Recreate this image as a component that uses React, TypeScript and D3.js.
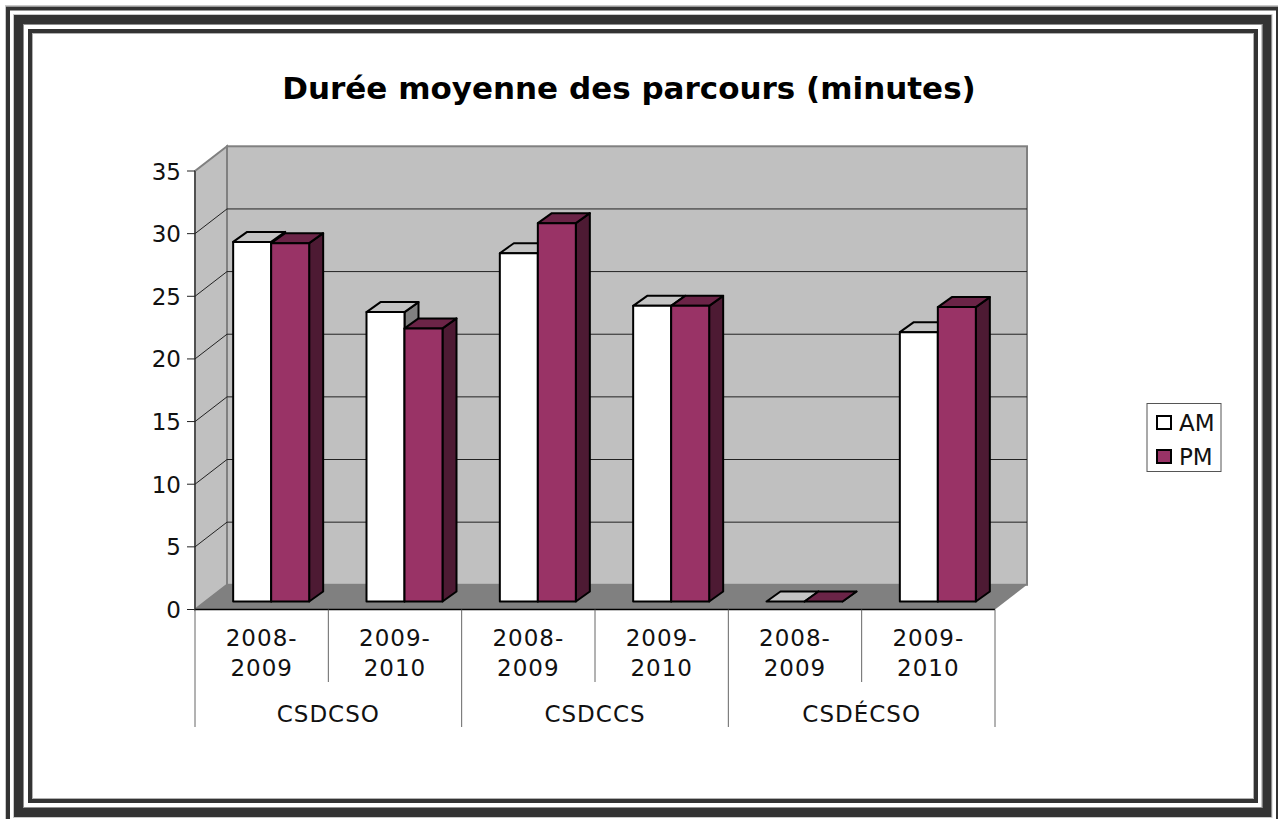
import React from 'react';
import * as d3 from 'd3';

const commissions = ['CSDCSO', 'CSDCCS', 'CSDÉCSO'];
const years = [['2008-', '2009'], ['2009-', '2010'], ['2008-', '2009'], ['2009-', '2010'], ['2008-', '2009'], ['2009-', '2010']];
const amValues = [28.7, 23.1, 27.8, 23.6, 0, 21.5];
const pmValues = [28.6, 21.8, 30.2, 23.6, 0, 23.5];
const seriesNames = ['AM', 'PM'];
const tickValues = [0, 5, 10, 15, 20, 25, 30, 35];

const FONT = '"DejaVu Sans", Verdana, sans-serif';
const W = 1278;
const H = 819;

// plancher et murs du faux 3D
const wallDx = 32;
const wallDy = -24.7;
const barDx = 14;
const barDy = -10;
const barShiftX = 9.5;
const barShiftY = -8;

const x = d3.scaleBand<number>().domain(d3.range(years.length)).range([195, 995]);
const xGroup = d3.scaleBand<number>().domain(d3.range(commissions.length)).range([195, 995]);
const barBand = d3.scaleBand<string>().domain(seriesNames).range([0, 76]);
const y = d3.scaleLinear().domain([0, 35]).range([609.5, 171]);

const colors: Record<string, { front: string; top: string; side: string }> = {
  AM: { front: '#ffffff', top: '#c4c4c4', side: '#808080' },
  PM: { front: '#993366', top: '#6b2447', side: '#4d1a33' },
};

const poly = (pts: [number, number][]) => d3.line()(pts) + 'Z';

const Bar = ({ i, name, value }: { i: number; name: string; value: number }) => {
  const c = colors[name];
  const x0 = x(i)! + (x.bandwidth() - 76) / 2 + barShiftX + barBand(name)!;
  const x1 = x0 + barBand.bandwidth();
  const yBase = y(0) + barShiftY;
  const yTop = y(value) + barShiftY;
  return (
    <g stroke="#000" strokeWidth={2} strokeLinejoin="round">
      <path d={poly([[x1, yTop], [x1 + barDx, yTop + barDy], [x1 + barDx, yBase + barDy], [x1, yBase]])} fill={c.side} />
      <path d={poly([[x0, yTop], [x0 + barDx, yTop + barDy], [x1 + barDx, yTop + barDy], [x1, yTop]])} fill={c.top} />
      {value > 0 && <rect x={x0} y={yTop} width={x1 - x0} height={yBase - yTop} fill={c.front} />}
    </g>
  );
};

const Frame = () => {
  // bandes du cadre: [gauche, haut, droite, bas, epaisseur, couleur]
  const bands: [number, number, number, number, number, string][] = [
    [5.5, 5.5, 1280, 825, 1, '#c8c8c8'],
    [13.5, 14.5, 1272, 817.5, 1, '#c8c8c8'],
    [23.5, 24.5, 1262, 807.5, 1, '#909090'],
    [32.5, 33.5, 1253.5, 798.5, 1, '#b0b0b0'],
    [8, 8.5, 1278, 823, 4, '#333333'],
    [18.5, 19.5, 1267, 812.5, 9, '#333333'],
    [30, 31, 1256, 801, 4, '#333333'],
  ];
  return (
    <g fill="none">
      {bands.map(([l, t, r, b, sw, col], k) => (
        <rect key={k} x={l} y={t} width={r - l} height={b - t} strokeWidth={sw} stroke={col} />
      ))}
    </g>
  );
};

export default function App() {
  const [xL, xR] = x.range();
  const y0 = y(0);
  const yMax = y(35);
  return (
    <svg width={W} height={H} style={{ position: 'absolute', left: 0, top: 0, background: '#fff' }} fontFamily={FONT}>
      <Frame />
      <text x={629} y={99} textAnchor="middle" fontSize={31} fontWeight="bold" fill="#000">
        Durée moyenne des parcours (minutes)
      </text>

      {/* murs */}
      <path d={poly([[xL, y0], [xL + wallDx, y0 + wallDy], [xL + wallDx, yMax + wallDy], [xL, yMax]])} fill="#c0c0c0" stroke="#808080" strokeWidth={2} />
      <rect x={xL + wallDx} y={yMax + wallDy} width={xR - xL} height={y0 - yMax} fill="#c0c0c0" stroke="#808080" strokeWidth={2} />
      {tickValues.slice(1, -1).map(t => (
        <path key={t} d={`M${xL},${y(t)}L${xL + wallDx},${y(t) + wallDy}H${xR + wallDx}`} fill="none" stroke="#222" strokeWidth={1} />
      ))}
      <path d={poly([[xL, y0], [xR, y0], [xR + wallDx, y0 + wallDy], [xL + wallDx, y0 + wallDy]])} fill="#808080" />

      {years.map((_, i) => (
        <g key={i}>
          <Bar i={i} name="AM" value={amValues[i]} />
          <Bar i={i} name="PM" value={pmValues[i]} />
        </g>
      ))}

      {/* axe y */}
      <line x1={xL} x2={xL} y1={yMax} y2={y0} stroke="#222" />
      {tickValues.map(t => (
        <g key={t}>
          <line x1={xL - 8} x2={xL} y1={y(t)} y2={y(t)} stroke="#222" />
          <text x={xL - 14} y={y(t) + 8.5} textAnchor="end" fontSize={23} fill="#111">{t}</text>
        </g>
      ))}

      {/* axe x a deux niveaux */}
      <line x1={xL} x2={xR} y1={y0} y2={y0} stroke="#000" strokeWidth={1.5} />
      {years.map((lines, i) => (
        <g key={i}>
          {lines.map((l, k) => (
            <text key={k} x={x(i)! + x.bandwidth() / 2} y={646 + k * 30} textAnchor="middle" fontSize={23} letterSpacing={1} fill="#111">{l}</text>
          ))}
          {i % 2 === 1 && (
            <line x1={x(i)!} x2={x(i)!} y1={y0} y2={682} stroke="#666" />
          )}
        </g>
      ))}
      {commissions.map((c, i) => (
        <text key={c} x={xGroup(i)! + xGroup.bandwidth() / 2} y={722} textAnchor="middle" fontSize={23} letterSpacing={1} fill="#111">{c}</text>
      ))}
      {d3.range(commissions.length + 1).map(i => {
        const gx = xL + i * xGroup.bandwidth();
        return <line key={i} x1={gx} x2={gx} y1={y0} y2={727} stroke="#666" />;
      })}

      {/* legende */}
      <rect x={1147} y={403.5} width={74} height={68} fill="#fff" stroke="#555" />
      {seriesNames.map((name, k) => (
        <g key={name}>
          <rect x={1157} y={416 + k * 34} width={14} height={13} fill={colors[name].front} stroke="#000" strokeWidth={2} />
          <text x={1179} y={431 + k * 34} fontSize={23} fill="#111">{name}</text>
        </g>
      ))}
    </svg>
  );
}
